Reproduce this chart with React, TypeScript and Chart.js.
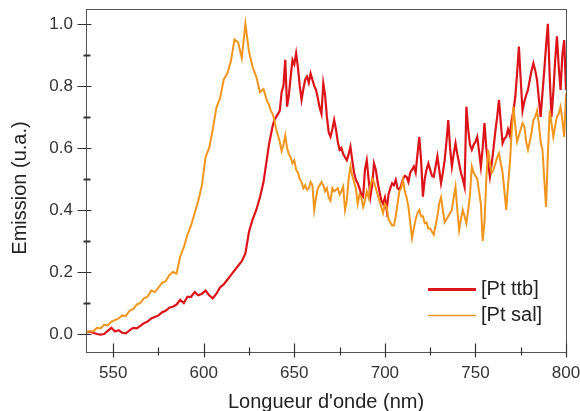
import { useEffect, useRef } from "react";
import { Chart, registerables } from "chart.js";

Chart.register(...registerables);

// ---------- data ----------
const wavelengths = [
  535, 537, 539, 541, 543, 545, 547, 549, 551, 553,
  555, 557, 559, 561, 563, 565, 567, 569, 571, 573,
  575, 577, 579, 581, 583, 585, 587, 589, 591, 593,
  595, 597, 599, 601, 603, 605, 607, 609, 611, 613,
  615, 617, 619, 621, 623, 625, 627, 629, 631, 633,
  634, 635, 636, 637, 638, 639, 640, 641, 642, 643,
  644, 645, 646, 647, 648, 649, 650, 651, 652, 653,
  654, 655, 656, 657, 658, 659, 660, 661, 662, 663,
  664, 665, 666, 667, 668, 669, 670, 671, 672, 673,
  674, 675, 676, 677, 678, 679, 680, 681, 682, 683,
  684, 685, 686, 687, 688, 689, 690, 691, 692, 693,
  694, 695, 696, 697, 698, 699, 700, 701, 702, 703,
  704, 705, 706, 707, 708, 709, 710, 711, 712, 713,
  714, 715, 716, 717, 718, 719, 720, 721, 722, 723,
  724, 725, 726, 727, 728, 729, 730, 731, 732, 733,
  734, 735, 736, 737, 738, 739, 740, 741, 742, 743,
  744, 745, 746, 747, 748, 749, 750, 751, 752, 753,
  754, 755, 756, 757, 758, 759, 760, 761, 762, 763,
  764, 765, 766, 767, 768, 769, 770, 771, 772, 773,
  774, 775, 776, 777, 778, 779, 780, 781, 782, 783,
  784, 785, 786, 787, 788, 789, 790, 791, 792, 793,
  794, 795, 796, 797, 798, 799, 800,
];

const ptSal = [
  0.005, 0.010, 0.008, 0.020, 0.018, 0.030, 0.028, 0.040, 0.045, 0.050,
  0.060, 0.058, 0.075, 0.080, 0.095, 0.100, 0.115, 0.120, 0.140, 0.135,
  0.150, 0.165, 0.170, 0.190, 0.200, 0.195, 0.250, 0.280, 0.320, 0.350,
  0.390, 0.430, 0.480, 0.570, 0.600, 0.660, 0.730, 0.760, 0.820, 0.840,
  0.880, 0.950, 0.940, 0.890, 1.000, 0.910, 0.860, 0.830, 0.780, 0.790,
  0.77, 0.75, 0.74, 0.72, 0.71, 0.69, 0.66, 0.64, 0.62, 0.59,
  0.61, 0.64, 0.60, 0.58, 0.57, 0.55, 0.56, 0.53, 0.52, 0.50,
  0.49, 0.47, 0.48, 0.465, 0.47, 0.49, 0.48, 0.40, 0.44, 0.47,
  0.48, 0.49, 0.48, 0.46, 0.47, 0.44, 0.43, 0.47, 0.46, 0.465,
  0.47, 0.45, 0.46, 0.475, 0.40, 0.43, 0.50, 0.54, 0.51, 0.49,
  0.47, 0.42, 0.45, 0.44, 0.41, 0.43, 0.46, 0.44, 0.48, 0.50,
  0.49, 0.47, 0.45, 0.43, 0.41, 0.39, 0.42, 0.41, 0.37, 0.36,
  0.35, 0.35, 0.38, 0.42, 0.46, 0.47, 0.497, 0.46, 0.44, 0.41,
  0.36, 0.31, 0.34, 0.37, 0.39, 0.40, 0.38, 0.38, 0.357, 0.36,
  0.34, 0.34, 0.33, 0.32, 0.35, 0.38, 0.42, 0.44, 0.40, 0.36,
  0.37, 0.38, 0.39, 0.40, 0.44, 0.475, 0.40, 0.335, 0.37, 0.40,
  0.38, 0.357, 0.40, 0.45, 0.54, 0.52, 0.51, 0.50, 0.46, 0.42,
  0.30, 0.36, 0.50, 0.594, 0.55, 0.52, 0.53, 0.55, 0.57, 0.583,
  0.55, 0.52, 0.46, 0.40, 0.48, 0.55, 0.65, 0.733, 0.67, 0.62,
  0.64, 0.66, 0.68, 0.67, 0.62, 0.594, 0.62, 0.65, 0.69, 0.70,
  0.72, 0.68, 0.62, 0.594, 0.50, 0.41, 0.58, 0.72, 0.68, 0.636,
  0.67, 0.70, 0.71, 0.733, 0.69, 0.636, 0.776,
];

const ptTtb = [
  0.005, 0.008, 0.004, 0.000, -0.002, 0.000, 0.010, 0.020, 0.008, 0.012,
  0.004, 0.002, 0.012, 0.020, 0.018, 0.026, 0.035, 0.040, 0.050, 0.055,
  0.060, 0.070, 0.075, 0.085, 0.088, 0.095, 0.110, 0.100, 0.120, 0.120,
  0.135, 0.125, 0.130, 0.140, 0.125, 0.115, 0.130, 0.150, 0.160, 0.175,
  0.190, 0.205, 0.220, 0.235, 0.260, 0.330, 0.370, 0.400, 0.440, 0.490,
  0.53, 0.57, 0.61, 0.64, 0.67, 0.69, 0.70, 0.71, 0.72, 0.78,
  0.80, 0.884, 0.733, 0.77, 0.83, 0.884, 0.87, 0.905, 0.86, 0.80,
  0.755, 0.79, 0.82, 0.83, 0.81, 0.84, 0.82, 0.80, 0.787, 0.76,
  0.73, 0.71, 0.808, 0.77, 0.70, 0.65, 0.636, 0.66, 0.69, 0.66,
  0.62, 0.594, 0.60, 0.58, 0.57, 0.56, 0.58, 0.604, 0.56, 0.52,
  0.497, 0.486, 0.47, 0.45, 0.443, 0.53, 0.56, 0.50, 0.443, 0.48,
  0.55, 0.53, 0.49, 0.46, 0.432, 0.42, 0.44, 0.40, 0.45, 0.47,
  0.486, 0.48, 0.497, 0.47, 0.465, 0.48, 0.50, 0.51, 0.507, 0.49,
  0.52, 0.53, 0.54, 0.52, 0.58, 0.636, 0.56, 0.443, 0.50, 0.53,
  0.55, 0.53, 0.51, 0.507, 0.54, 0.573, 0.53, 0.486, 0.52, 0.56,
  0.62, 0.69, 0.60, 0.54, 0.58, 0.615, 0.58, 0.55, 0.52, 0.50,
  0.475, 0.733, 0.66, 0.61, 0.594, 0.61, 0.62, 0.636, 0.59, 0.54,
  0.60, 0.68, 0.60, 0.55, 0.507, 0.55, 0.60, 0.654, 0.70, 0.755,
  0.68, 0.615, 0.63, 0.636, 0.66, 0.64, 0.69, 0.72, 0.765, 0.84,
  0.927, 0.82, 0.72, 0.75, 0.77, 0.787, 0.82, 0.85, 0.873, 0.85,
  0.82, 0.76, 0.70, 0.776, 0.85, 0.93, 1.0, 0.83, 0.70, 0.78,
  0.88, 0.96, 0.86, 0.787, 0.90, 0.948, 0.787,
];

const seriesNames = ["[Pt ttb]", "[Pt sal]"];
const xMajorTicks = [550, 600, 650, 700, 750, 800];
const xMinorTicks = [575, 625, 675, 725, 775];
const yMajorTicks = [0, 0.2, 0.4, 0.6, 0.8, 1.0];
const yMinorTicks = [0.1, 0.3, 0.5, 0.7, 0.9];
const xTitle = "Longueur d'onde (nm)";
const yTitle = "Emission (u.a.)";

const RED = "#dc1419";
const ORANGE = "#f2951c";
const FONT = "'Liberation Sans', Arial, sans-serif";

const decorPlugin = {
  id: "decor",
  afterDraw(chart: any) {
    const { ctx, chartArea: ca, scales } = chart;
    const x = scales.x;
    const y = scales.y;
    ctx.save();
    // frame
    ctx.strokeStyle = "#555";
    ctx.lineWidth = 1;
    ctx.strokeRect(ca.left + 0.5, ca.top + 0.5, ca.right - ca.left, ca.bottom - ca.top);

    const seg = (x1: number, y1: number, x2: number, y2: number) => {
      ctx.beginPath();
      ctx.moveTo(x1, y1);
      ctx.lineTo(x2, y2);
      ctx.stroke();
    };
    // tick marks crossing the axes
    ctx.strokeStyle = "#333";
    const by = ca.bottom + 0.5;
    xMajorTicks.forEach((v) => {
      const px = Math.round(x.getPixelForValue(v)) + 0.5;
      ctx.lineWidth = 1.2;
      seg(px, by - 9, px, by + 5);
    });
    xMinorTicks.forEach((v) => {
      const px = Math.round(x.getPixelForValue(v)) + 0.5;
      ctx.lineWidth = 1.2;
      seg(px, by - 5, px, by + 3);
    });
    const lx = ca.left + 0.5;
    yMajorTicks.forEach((v) => {
      const py = Math.round(y.getPixelForValue(v)) + 0.5;
      ctx.lineWidth = 1;
      seg(lx - 9, py, lx + 5, py);
    });
    yMinorTicks.forEach((v) => {
      const py = Math.round(y.getPixelForValue(v)) + 0.5;
      ctx.lineWidth = 2;
      seg(lx - 3, py, lx + 4, py);
    });

    // axis titles
    ctx.fillStyle = "#222";
    ctx.font = `20px ${FONT}`;
    ctx.textAlign = "center";
    ctx.textBaseline = "middle";
    ctx.fillText(xTitle, (ca.left + ca.right) / 2, 402);
    ctx.save();
    ctx.translate(20, 188);
    ctx.rotate(-Math.PI / 2);
    ctx.fillText(yTitle, 0, 0);
    ctx.restore();

    // legend
    const items = [
      { name: seriesNames[0], color: RED, width: 3, yy: 289 },
      { name: seriesNames[1], color: ORANGE, width: 1.6, yy: 315 },
    ];
    items.forEach((it) => {
      ctx.strokeStyle = it.color;
      ctx.lineWidth = it.width;
      seg(428, it.yy + 0.5, 476, it.yy + 0.5);
      ctx.fillStyle = "#222";
      ctx.font = `20px ${FONT}`;
      ctx.textAlign = "left";
      ctx.textBaseline = "middle";
      ctx.fillText(it.name, 481, it.yy);
    });
    ctx.restore();
  },
};

export default function App() {
  const ref = useRef<HTMLCanvasElement | null>(null);

  useEffect(() => {
    if (!ref.current) return;
    const chart = new Chart(ref.current, {
      type: "line",
      data: {
        datasets: [
          {
            label: seriesNames[1],
            data: wavelengths.map((w, i) => ({ x: w, y: ptSal[i] })),
            borderColor: ORANGE,
            borderWidth: 2,
            pointRadius: 0,
            tension: 0,
            fill: false,
          },
          {
            label: seriesNames[0],
            data: wavelengths.map((w, i) => ({ x: w, y: ptTtb[i] })),
            borderColor: RED,
            borderWidth: 2.2,
            pointRadius: 0,
            tension: 0,
            fill: false,
          },
        ],
      },
      options: {
        animation: false,
        responsive: false,
        layout: { padding: { left: 0, right: 14, top: 9, bottom: 0 } },
        plugins: {
          legend: { display: false },
          tooltip: { enabled: false },
        },
        scales: {
          x: {
            type: "linear",
            min: 535,
            max: 800,
            grid: { display: false, drawTicks: false },
            border: { display: false },
            afterBuildTicks: (s: any) => {
              s.ticks = xMajorTicks.map((v) => ({ value: v }));
            },
            afterFit: (s: any) => {
              s.height = 59;
              s.paddingLeft = 0;
              s.paddingRight = 0;
            },
            ticks: {
              padding: 11,
              color: "#333",
              font: { family: FONT, size: 17 },
              maxRotation: 0,
              callback: (v: any) => String(v),
            },
          },
          y: {
            type: "linear",
            min: -0.058,
            max: 1.048,
            grid: { display: false, drawTicks: false },
            border: { display: false },
            afterBuildTicks: (s: any) => {
              s.ticks = yMajorTicks.map((v) => ({ value: v }));
            },
            afterFit: (s: any) => {
              s.width = 86;
              s.paddingTop = 0;
              s.paddingBottom = 0;
            },
            ticks: {
              padding: 13,
              color: "#333",
              font: { family: FONT, size: 17 },
              callback: (v: any) => Number(v).toFixed(1),
            },
          },
        },
      },
      plugins: [decorPlugin],
    });
    return () => chart.destroy();
  }, []);

  return (
    <canvas
      ref={ref}
      width={580}
      height={411}
      style={{ position: "absolute", left: 0, top: 0, width: 580, height: 411, display: "block" }}
    />
  );
}
